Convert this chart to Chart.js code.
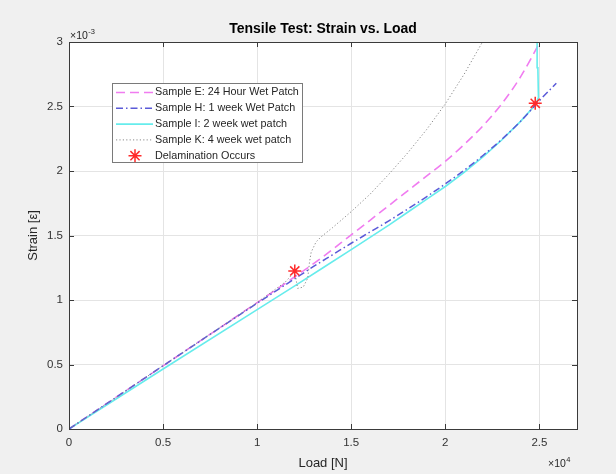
<!DOCTYPE html>
<html>
<head>
<meta charset="utf-8">
<title>Tensile Test: Strain vs. Load</title>
<script src="https://cdn.jsdelivr.net/npm/chart.js@4.4.1/dist/chart.umd.min.js"></script>
<style>
	html, body { margin: 0; padding: 0; background: #f0f0f0; }
	#wrap { width: 616px; height: 474px; }
</style>
</head>
<body>
<div id="wrap"><canvas id="myChart" width="616" height="474"></canvas></div>
<script>
"use strict";

// Data (load in N, strain in mm/mm)
const seriesNames = [
	"Sample E: 24 Hour Wet Patch",
	"Sample H: 1 week Wet Patch",
	"Sample I: 2 week wet patch",
	"Sample K: 4 week wet patch",
	"Delamination Occurs",
];

const loadE = [0, 5000, 10000, 12000, 13500, 15000, 16000, 17000, 18000, 19000, 20000, 21000, 22000, 23000, 24000, 25000];
const strainE = [0, 0.49e-3, 0.98e-3, 1.18e-3, 1.335e-3, 1.505e-3, 1.618e-3, 1.732e-3, 1.846e-3, 1.96e-3, 2.075e-3, 2.205e-3, 2.35e-3, 2.52e-3, 2.73e-3, 2.99e-3];

const loadH = [0, 5000, 10000, 12000, 13000, 14000, 15000, 16000, 17000, 18000, 19000, 20000, 21000, 22000, 23000, 24000, 25000, 25900];
const strainH = [0, 0.49e-3, 0.975e-3, 1.165e-3, 1.26e-3, 1.35e-3, 1.44e-3, 1.527e-3, 1.614e-3, 1.705e-3, 1.8e-3, 1.9e-3, 2.005e-3, 2.12e-3, 2.245e-3, 2.385e-3, 2.545e-3, 2.68e-3];

const loadI = [0, 5000, 10000, 12000, 13500, 15000, 16000, 17000, 18000, 19000, 20000, 21000, 22000, 23000, 24000, 24800, 24950, 24920, 24880];
const strainI = [0, 0.465e-3, 0.925e-3, 1.11e-3, 1.25e-3, 1.39e-3, 1.485e-3, 1.58e-3, 1.68e-3, 1.78e-3, 1.88e-3, 1.99e-3, 2.11e-3, 2.24e-3, 2.385e-3, 2.515e-3, 2.57e-3, 2.8e-3, 3.0e-3];

const loadK = [0, 5000, 10000, 11500, 12000, 12150, 12450, 12690, 12780, 12870, 13130, 13400, 14000, 15000, 16000, 17000, 18000, 19000, 20000, 21000, 21975];
const strainK = [0, 0.49e-3, 0.98e-3, 1.14e-3, 1.22e-3, 1.09e-3, 1.10e-3, 1.17e-3, 1.29e-3, 1.37e-3, 1.45e-3, 1.49e-3, 1.56e-3, 1.685e-3, 1.82e-3, 1.975e-3, 2.14e-3, 2.32e-3, 2.52e-3, 2.75e-3, 3.0e-3];

const loadDelam = [12000, 24780];
const strainDelam = [1.225e-3, 2.525e-3];

const xTicks = [0, 5000, 10000, 15000, 20000, 25000];
const yTicks = [0, 0.5e-3, 1e-3, 1.5e-3, 2e-3, 2.5e-3, 3e-3];

// pair the x and y arrays into points for Chart.js
function toPoints(xs, ys) {
	return xs.map(function (x, i) {
		return { x: x, y: ys[i] };
	});
}

const fontName = "'Liberation Sans', Arial, Helvetica, sans-serif";
Chart.defaults.font.family = fontName;
Chart.defaults.color = "#262626";

// white axes background, box, inward ticks, exponents and legend like MATLAB
const matlabLook = {
	id: "matlabLook",
	beforeDraw(chart) {
		const { ctx, chartArea: a } = chart;
		ctx.save();
		ctx.fillStyle = "#ffffff";
		ctx.fillRect(a.left, a.top, a.right - a.left, a.bottom - a.top);
		ctx.restore();
	},
	afterDraw(chart) {
		const { ctx, chartArea: a, scales } = chart;
		ctx.save();

		// box
		ctx.strokeStyle = "#3a3a3a";
		ctx.lineWidth = 1;
		ctx.strokeRect(Math.round(a.left) + 0.5, Math.round(a.top) + 0.5,
			Math.round(a.right - a.left), Math.round(a.bottom - a.top));

		// inward tick marks
		const tl = 5;
		ctx.beginPath();
		xTicks.forEach(function (v) {
			const px = Math.round(scales.x.getPixelForValue(v)) + 0.5;
			ctx.moveTo(px, a.bottom);
			ctx.lineTo(px, a.bottom - tl);
			ctx.moveTo(px, a.top);
			ctx.lineTo(px, a.top + tl);
		});
		yTicks.forEach(function (v) {
			const py = Math.round(scales.y.getPixelForValue(v)) + 0.5;
			ctx.moveTo(a.left, py);
			ctx.lineTo(a.left + tl, py);
			ctx.moveTo(a.right, py);
			ctx.lineTo(a.right - tl, py);
		});
		ctx.stroke();

		// exponent labels
		ctx.fillStyle = "#262626";
		ctx.textBaseline = "alphabetic";
		ctx.textAlign = "left";
		ctx.font = "10.5px " + fontName;
		ctx.fillText("\u00d710", a.left + 1, a.top - 3);
		let w = ctx.measureText("\u00d710").width;
		ctx.font = "7.5px " + fontName;
		ctx.fillText("-3", a.left + 1 + w + 0.5, a.top - 8);

		ctx.font = "10.5px " + fontName;
		ctx.fillText("\u00d710", a.right - 29, a.bottom + 38);
		w = ctx.measureText("\u00d710").width;
		ctx.font = "7.5px " + fontName;
		ctx.fillText("4", a.right - 29 + w + 0.5, a.bottom + 33);

		// legend
		const lx = a.left + 43;
		const ly = a.top + 41;
		const lw = 190;
		const lh = 79;
		ctx.fillStyle = "#ffffff";
		ctx.fillRect(lx, ly, lw, lh);
		ctx.strokeStyle = "#7a7a7a";
		ctx.strokeRect(lx + 0.5, ly + 0.5, lw, lh);

		const rowH = 15.8;
		chart.data.datasets.forEach(function (ds, i) {
			const cy = ly + 9.5 + i * rowH;
			ctx.save();
			if (ds.showLine) {
				ctx.strokeStyle = ds.borderColor;
				ctx.lineWidth = ds.borderWidth;
				ctx.setLineDash(ds.borderDash || []);
				ctx.beginPath();
				ctx.moveTo(lx + 4, cy);
				ctx.lineTo(lx + 41, cy);
				ctx.stroke();
			} else {
				ctx.strokeStyle = ds.pointBorderColor;
				ctx.lineWidth = ds.pointBorderWidth;
				const r = ds.pointRadius;
				const cx = lx + 23;
				ctx.beginPath();
				for (let k = 0; k < 4; k++) {
					const ang = k * Math.PI / 4;
					ctx.moveTo(cx - r * Math.cos(ang), cy - r * Math.sin(ang));
					ctx.lineTo(cx + r * Math.cos(ang), cy + r * Math.sin(ang));
				}
				ctx.stroke();
			}
			ctx.restore();
			ctx.fillStyle = "#262626";
			ctx.font = "10.8px " + fontName;
			ctx.textBaseline = "middle";
			ctx.fillText(ds.label, lx + 43, cy);
		});

		ctx.restore();
	},
};

function generateStrainChart() {
	const ctx = document.getElementById("myChart");

	new Chart(ctx, {
		type: "scatter",
		data: {
			datasets: [
				{
					label: seriesNames[0],
					data: toPoints(loadE, strainE),
					showLine: true,
					borderColor: "#f07cf0",
					borderWidth: 1.6,
					borderDash: [9, 5],
					cubicInterpolationMode: "monotone",
					pointRadius: 0,
					order: 4,
				},
				{
					label: seriesNames[1],
					data: toPoints(loadH, strainH),
					showLine: true,
					borderColor: "#5a5ad8",
					borderWidth: 1.5,
					borderDash: [7, 3, 1.5, 3],
					cubicInterpolationMode: "monotone",
					pointRadius: 0,
					order: 2,
				},
				{
					label: seriesNames[2],
					data: toPoints(loadI, strainI),
					showLine: true,
					borderColor: "#66ecec",
					borderWidth: 1.6,
					pointRadius: 0,
					order: 3,
				},
				{
					label: seriesNames[3],
					data: toPoints(loadK, strainK),
					showLine: true,
					borderColor: "#8a8a8a",
					borderWidth: 1,
					borderDash: [1.2, 2.2],
					pointRadius: 0,
					order: 1,
				},
				{
					label: seriesNames[4],
					data: toPoints(loadDelam, strainDelam),
					showLine: false,
					pointStyle: "star",
					pointRadius: 6.5,
					pointBorderColor: "#ff2a2a",
					pointBorderWidth: 1.5,
					pointBackgroundColor: "#ff2a2a",
					order: 0,
				},
			],
		},
		options: {
			responsive: false,
			animation: false,
			events: [],
			layout: {
				padding: { left: 0, right: 39, top: 0, bottom: 0 },
			},
			plugins: {
				legend: { display: false },
				tooltip: { enabled: false },
				title: {
					display: true,
					fullSize: false,
					text: "Tensile Test: Strain vs. Load",
					color: "#000000",
					font: { size: 14, weight: "bold" },
					padding: { top: 20.6, bottom: 4.6 },
				},
			},
			scales: {
				x: {
					type: "linear",
					min: 0,
					max: 27000,
					afterFit: function (scale) {
						scale.height = 45;
					},
					afterBuildTicks: function (scale) {
						scale.ticks = xTicks.map(function (v) {
							return { value: v };
						});
					},
					ticks: {
						padding: 7,
						color: "#333333",
						font: { size: 11.5 },
						maxRotation: 0,
						callback: function (v) {
							return String(Math.round(v / 1000) / 10);
						},
					},
					grid: { color: "#e4e4e4", drawTicks: false },
					border: { display: false },
					title: {
						display: true,
						text: "Load [N]",
						color: "#262626",
						font: { size: 13 },
						padding: { top: 0, bottom: 3.2 },
					},
				},
				y: {
					type: "linear",
					min: 0,
					max: 3e-3,
					afterFit: function (scale) {
						scale.width = 69;
					},
					afterBuildTicks: function (scale) {
						scale.ticks = yTicks.map(function (v) {
							return { value: v };
						});
					},
					ticks: {
						padding: 6,
						color: "#333333",
						font: { size: 11.5 },
						callback: function (v) {
							return String(Math.round(v * 1e4) / 10);
						},
					},
					grid: { color: "#e4e4e4", drawTicks: false },
					border: { display: false },
					title: {
						display: true,
						text: "Strain [\u03b5]",
						color: "#262626",
						font: { size: 13 },
						padding: { top: 25.2, bottom: 0 },
					},
				},
			},
		},
		plugins: [matlabLook],
	});
}

generateStrainChart();
</script>
</body>
</html>
